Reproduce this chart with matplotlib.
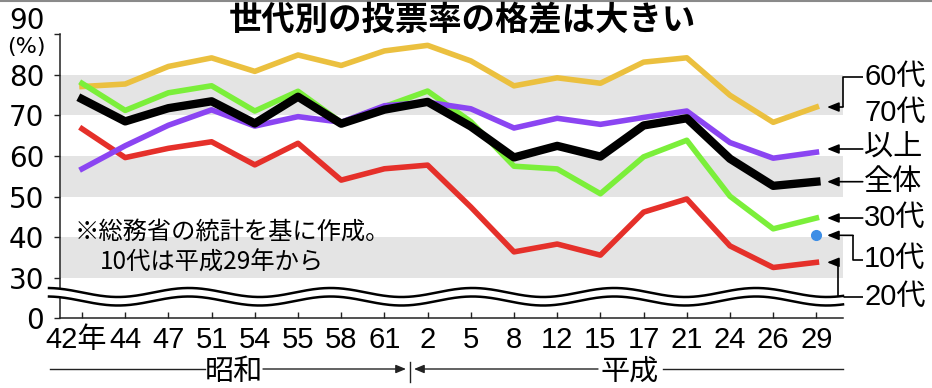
import matplotlib
matplotlib.use('Agg')
import matplotlib.pyplot as plt
import matplotlib.transforms as mtransforms
import numpy as np

# data (衆院選 世代別投票率, 総務省)
years = ['42年', '44', '47', '51', '54', '55', '58', '61', '2', '5',
         '8', '12', '15', '17', '21', '24', '26', '29']
age20 = [66.69, 59.61, 61.89, 63.50, 57.82, 63.13, 54.07, 56.86, 57.76, 47.46,
         36.42, 38.35, 35.62, 46.20, 49.45, 37.89, 32.58, 33.85]
age30 = [77.88, 71.21, 75.54, 77.27, 71.06, 75.92, 68.25, 72.15, 75.97, 68.46,
         57.49, 56.82, 50.72, 59.79, 63.87, 50.10, 42.09, 44.75]
age60 = [77.08, 77.70, 82.02, 84.13, 80.81, 84.84, 82.26, 85.84, 87.21, 83.38,
         77.25, 79.23, 77.89, 83.08, 84.15, 74.93, 68.28, 72.04]
age70 = [56.83, 62.52, 67.56, 71.35, 67.36, 69.68, 68.31, 72.36, 73.21, 71.61,
         66.88, 69.28, 67.78, 69.48, 71.06, 63.30, 59.46, 60.94]
total = [73.99, 68.51, 71.76, 73.45, 68.01, 74.57, 67.94, 71.40, 73.31, 67.26,
         59.65, 62.49, 59.86, 67.51, 69.28, 59.32, 52.66, 53.68]
age10 = 40.49
yticks = [30, 40, 50, 60, 70, 80, 90]
bands = [(30, 40), (50, 60), (70, 80)]

W, H = 932, 388
CJK = 'Noto Sans CJK JP'
NARROW = ['Liberation Sans', CJK]

# layout (pixels)
px_unit = 244 / 60.0          # pixels per 1%
x_first, x_step = 82, 43.2    # first tick, tick spacing
ybot = 30 - 40 / px_unit      # value used for the "0" position

def xi(px):
    return (px - x_first) / x_step

def yv(py):
    return 90 - (py - 34) / px_unit

fig = plt.figure(figsize=(W / 100, H / 100), dpi=100)
ax = fig.add_axes([60 / W, 1 - 318 / H, 783 / W, 284 / H])
x = np.arange(len(years))
ax.set_xlim(xi(60), xi(843))
ax.set_ylim(ybot, 90)

for lo, hi in bands:
    ax.axhspan(lo, hi, color='#e4e4e4', lw=0, zorder=0)

ax.plot(x, age20, color='#e5302a', lw=4, zorder=3)
ax.plot(x, age60, color='#ebc03f', lw=4, zorder=3)
ax.plot(x, age30, color='#7bef3a', lw=4, zorder=3)
ax.plot(x, age70, color='#8b45f2', lw=4, zorder=3)
ax.plot(x, total, color='black', lw=6, zorder=4)
ax.plot([x[-1]], [age10], 'o', color='#3d8ee6', ms=7, zorder=4)

# axes styling
for s in ['top', 'right']:
    ax.spines[s].set_visible(False)
for s in ['left', 'bottom']:
    ax.spines[s].set_linewidth(1.1)
    ax.spines[s].set_color('#222222')

ax.set_xticks(x)
ax.set_xticklabels(years, family=NARROW, fontsize=21)
ax.tick_params(axis='x', direction='in', length=4, width=1, pad=6, color='#222222')
first = ax.get_xticklabels()[0]
first.set_transform(first.get_transform() +
                    mtransforms.ScaledTranslation(-6 / 100, 0, fig.dpi_scale_trans))
ax.set_yticks([ybot] + yticks)
ax.set_yticklabels(['0'] + [str(v) for v in yticks[:-1]] + [''], fontsize=20)
ax.tick_params(axis='y', direction='out', length=4.5, width=1, pad=7, color='#222222')
ax.text(xi(45), 90 + 13 / px_unit, '90', fontsize=20,
        ha='right', va='center', clip_on=False)
ax.text(xi(26), yv(47), '(%)', fontsize=16, ha='center', va='center', clip_on=False)

# broken-axis wave
wx = np.linspace(xi(49), xi(843), 500)
phase = 2 * np.pi * (wx - xi(188.8)) / (141.8 / x_step)
top = yv(292.5) + (4.5 / px_unit) * np.cos(phase)
bot = top - 8.5 / px_unit
ax.fill_between(wx, bot, top, color='white', lw=0, zorder=5, clip_on=False)
ax.plot(wx, top, color='black', lw=1.8, zorder=6, clip_on=False)
ax.plot(wx, bot, color='black', lw=1.8, zorder=6, clip_on=False)

# note
ax.text(xi(75), yv(231.5), '※総務省の統計を基に作成。', family=CJK, fontsize=17.5,
        ha='left', va='center', zorder=7)
ax.text(xi(100), yv(263), '10代は平成29年から', family=CJK, fontsize=17.5,
        ha='left', va='center', zorder=7)

# right-side labels with leaders
tip = xi(827)
xt = xi(864)
arw = dict(arrowstyle='-|>,head_length=0.7,head_width=0.28', color='black',
           lw=1.2, shrinkA=0, shrinkB=0, mutation_scale=10)

def leader(yline, ytext, xcorner=None):
    if xcorner is None:
        ax.annotate('', xy=(tip, yline), xytext=(xt - 0.03, yline),
                    arrowprops=arw, annotation_clip=False)
    else:
        ax.annotate('', xy=(tip, yline), xytext=(xcorner, yline),
                    arrowprops=arw, annotation_clip=False)
        ax.plot([xcorner, xcorner, xt - 0.03], [yline, ytext, ytext],
                color='black', lw=1.2, clip_on=False, solid_capstyle='butt')

leader(age60[-1], yv(77), xi(843))
leader(yv(149), yv(149))
leader(total[-1], total[-1])
leader(age30[-1], age30[-1])
leader(age10, yv(260), xi(853))
leader(age20[-1], yv(297), xi(838))

lab = dict(family=NARROW, fontsize=21, ha='left', va='center', clip_on=False)
ax.text(xt, yv(77), '60代', **lab)
ax.text(xt, yv(113), '70代', **lab)
ax.text(xt, yv(148), '以上', **lab)
ax.text(xt, total[-1], '全体', **lab)
ax.text(xt, age30[-1], '30代', **lab)
ax.text(xt, yv(259), '10代', **lab)
ax.text(xt, yv(297), '20代', **lab)

# era bracket below the axis (pixel overlay)
ov = fig.add_axes([0, 0, 1, 1], facecolor='none')
ov.set_xlim(0, W)
ov.set_ylim(H, 0)
ov.axis('off')
ey = 369
era_arw = dict(arrowstyle='-|>,head_length=0.6,head_width=0.25',
               color='#222222', lw=1, shrinkA=0, shrinkB=0, mutation_scale=10)
ov.plot([50, 205], [ey, ey], color='#222222', lw=1)
ov.annotate('', xy=(406, ey), xytext=(263, ey), arrowprops=era_arw)
ov.plot([410, 410], [362, 382], color='#222222', lw=1)
ov.annotate('', xy=(414, ey), xytext=(598, ey), arrowprops=era_arw)
ov.plot([663, 843], [ey, ey], color='#222222', lw=1)
ov.text(234, 372, '昭和', family=CJK, fontsize=21, ha='center', va='center')
ov.text(630, 372, '平成', family=CJK, fontsize=21, ha='center', va='center')
ov.plot([0, W], [0.8, 0.8], color='#8a8a8a', lw=1.5)

fig.text(462 / W, 1 - 21 / H, '世代別の投票率の格差は大きい', family=CJK,
         fontsize=24, fontweight='bold', ha='center', va='center')

fig.savefig('out.png', dpi=100)
